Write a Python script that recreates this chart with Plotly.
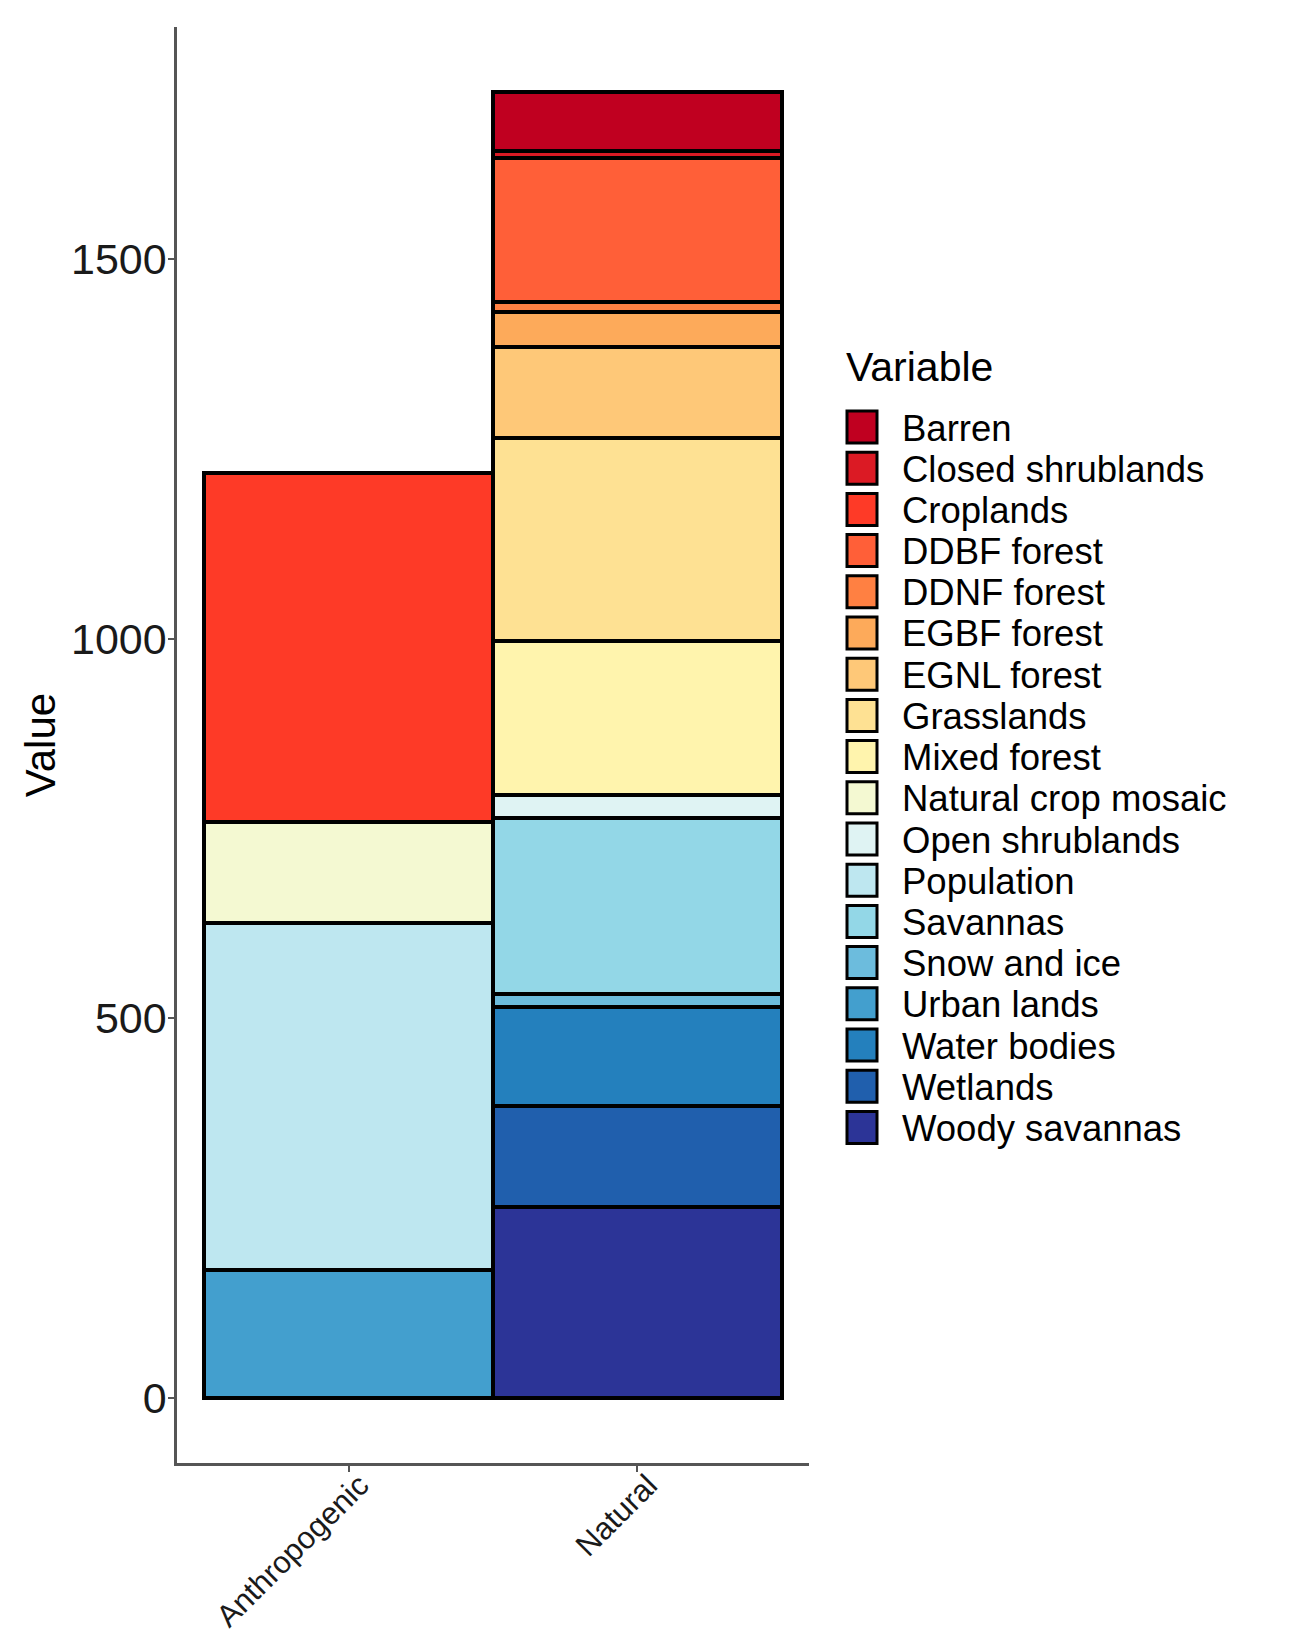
import plotly.graph_objects as go

# categories on the x axis
groups = ["Anthropogenic", "Natural"]

# stack order, bottom to top (legend shows the reverse)
variables = [
    "Woody savannas", "Wetlands", "Water bodies", "Urban lands", "Snow and ice",
    "Savannas", "Population", "Open shrublands", "Natural crop mosaic",
    "Mixed forest", "Grasslands", "EGNL forest", "EGBF forest", "DDNF forest",
    "DDBF forest", "Croplands", "Closed shrublands", "Barren",
]

# values per variable for [Anthropogenic, Natural]; None = not present
anthropogenic = [None, None, None, 168, None, None, 458, None, 133,
                 None, None, None, None, None, None, 459, None, None]
natural = [251, 133, 131, None, 17, 232, None, 30, None,
           203, 267, 120, 47, 13, 190, None, 9, 77]

colors = [
    "#2C3497", "#205FAD", "#2480BD", "#439FCE", "#6CBCDD",
    "#93D7E7", "#BEE7F0", "#DFF3F3", "#F4F9D2",
    "#FFF4AD", "#FEE193", "#FEC878", "#FDAA5A", "#FF8042",
    "#FF5F38", "#FE3A27", "#DB1A24", "#C00020",
]

yticks = [0, 500, 1000, 1500]

W, H = 1302, 1645
OFF = 8                           # default body margin of the html page
L, R, T, B = 177, 809, 27, 1463   # plot area, page pixels
FONT = "Arial, Liberation Sans, sans-serif"

fig = go.Figure()
for name, a, n, c in zip(variables, anthropogenic, natural, colors):
    fig.add_trace(go.Bar(
        x=groups, y=[a, n], name=name,
        marker=dict(color=c, line=dict(color="black", width=4)),
        showlegend=False,
    ))


def xp(px):
    return (px - L) / (R - L)


def yp(py):
    return (B - py) / (B - T)


# hand-built legend so rows sit as tightly as in the original
shapes = []
annotations = [dict(
    text="Variable", xref="paper", yref="paper", x=xp(844), y=yp(367),
    xanchor="left", yanchor="middle", showarrow=False,
    font=dict(size=41, family=FONT, color="black"),
)]
row0, pitch = 427, 41.2
for i, (name, c) in enumerate(zip(variables[::-1], colors[::-1])):
    cy = row0 + pitch * i
    shapes.append(dict(
        type="rect", xref="paper", yref="paper",
        x0=xp(847), x1=xp(877), y0=yp(cy + 16), y1=yp(cy - 16),
        fillcolor=c, line=dict(color="black", width=3),
    ))
    annotations.append(dict(
        text=name, xref="paper", yref="paper", x=xp(900), y=yp(cy + 1),
        xanchor="left", yanchor="middle", showarrow=False,
        font=dict(size=36.5, family=FONT, color="black"),
    ))

fig.update_layout(
    width=W, height=H,
    margin=dict(l=L - OFF, r=W - R + OFF, t=T - OFF, b=H - B + OFF),
    barmode="stack", bargap=0,
    plot_bgcolor="white", paper_bgcolor="white",
    font=dict(family=FONT, color="black"),
    shapes=shapes, annotations=annotations,
    xaxis=dict(
        type="category", range=[-0.595, 1.595],
        showline=True, linecolor="#555555", linewidth=2.5,
        ticks="outside", ticklen=6, tickwidth=2, tickcolor="#555555",
        tickangle=-45, tickfont=dict(size=31, color="#1a1a1a"),
        ticklabelshift=11, ticklabelstandoff=-17,
        showgrid=False, zeroline=False,
    ),
    yaxis=dict(
        range=[-86, 1806], tickvals=yticks,
        showline=True, linecolor="#555555", linewidth=2.5,
        ticks="outside", ticklen=6, tickwidth=2, tickcolor="#555555",
        tickfont=dict(size=43, color="#1a1a1a"), ticklabelstandoff=-7,
        title=dict(text="Value", font=dict(size=42), standoff=3),
        showgrid=False, zeroline=False,
    ),
)

fig.write_html("out.html")
